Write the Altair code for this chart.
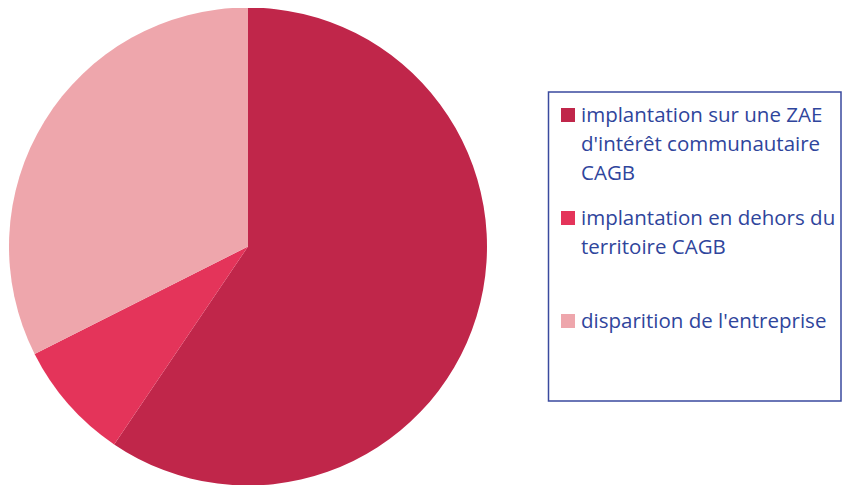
import altair as alt
import pandas as pd

categories = [
    "implantation sur une ZAE|d'intérêt communautaire|CAGB",
    "implantation en dehors du|territoire CAGB",
    "disparition de l'entreprise",
]
values = [22, 3, 12]
colors = ["#C0264A", "#E4345A", "#EEA6AC"]

df = pd.DataFrame({"cat": categories, "val": values, "idx": list(range(len(values)))})

text_color = "#2F459C"
color_scale = alt.Scale(domain=categories, range=colors)

base = alt.Chart(df)

pie = base.mark_arc(radius=239, stroke=None).encode(
    theta=alt.Theta("val:Q", stack=True),
    order=alt.Order("idx:Q"),
    x=alt.value(240),
    y=alt.value(238.5),
    color=alt.Color("cat:N", sort=categories, scale=color_scale, legend=None),
)

legend_y = alt.Y("idx:Q", scale=alt.Scale(domain=[0, 2], range=[114, 320]), axis=None)

squares = base.mark_square(size=196, opacity=1, yOffset=-7).encode(
    x=alt.value(560),
    y=legend_y,
    color=alt.Color("cat:N", sort=categories, scale=color_scale, legend=None),
)

labels = base.mark_text(
    align="left",
    baseline="alphabetic",
    lineBreak="|",
    lineHeight=29,
    font="Open Sans",
    fontSize=20.5,
    color=text_color,
).encode(
    x=alt.value(573),
    y=legend_y,
    text="cat:N",
)

box = alt.Chart(pd.DataFrame({"b": [0]})).mark_rect(
    fill="white", fillOpacity=0, stroke="#3A4A9E", strokeWidth=1.5
).encode(
    x=alt.value(540.5),
    x2=alt.value(833),
    y=alt.value(84),
    y2=alt.value(393),
)

chart = alt.layer(pie, box, squares, labels).properties(
    width=834, height=477, autosize=alt.AutoSizeParams(type="none"), padding=0
).configure_view(stroke=None)

chart.save("out.html", embed_options={"renderer": "svg", "actions": False})
